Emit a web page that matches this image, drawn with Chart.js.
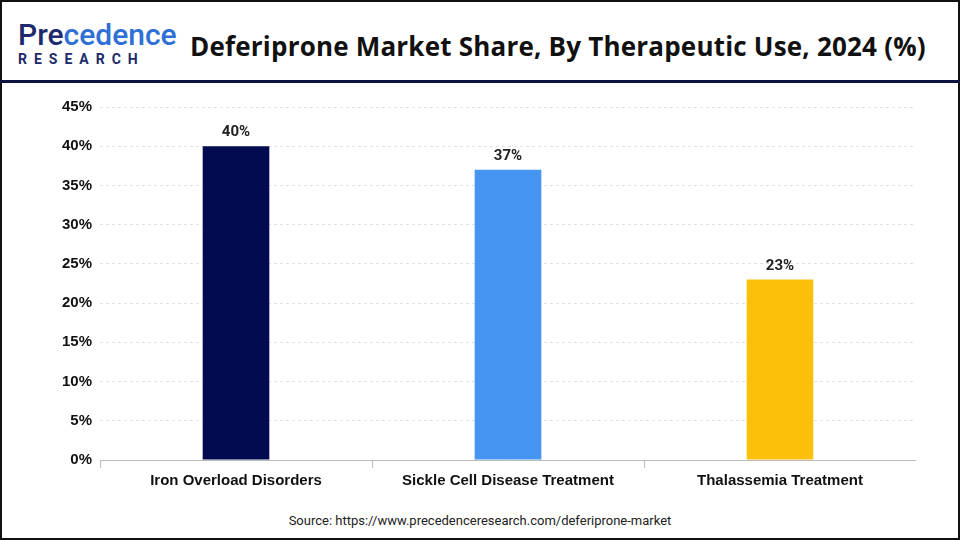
<!DOCTYPE html>
<html><head><meta charset="utf-8">
<script src="https://cdn.jsdelivr.net/npm/chart.js@4/dist/chart.umd.min.js"></script>
<style>
body{margin:0;width:960px;height:540px;overflow:hidden;background:#fff;font-family:Roboto,Arial,sans-serif}
#frame{position:absolute;left:0;top:0;width:956px;height:536px;border:2px solid #111;}
#logo{position:absolute;left:18px;top:20px;line-height:1}
#logo .p{font-size:30px;color:#1d2a6b;font-weight:500}
#logo .p span{color:#2f6fd6}
#logo .r{font-size:14px;color:#1d2a6b;font-weight:700;letter-spacing:7px;margin-top:2px}
#title{position:absolute;left:190px;top:28px;font-size:26px;font-weight:700;color:#111;font-family:"Open Sans",Roboto,sans-serif;letter-spacing:0.2px}
#rule{position:absolute;left:0;top:80px;width:960px;height:3px;background:#0d1440}
#wrap{position:absolute;left:28px;top:90px;width:888px;height:404px}
#src{position:absolute;top:513px;width:960px;text-align:center;font-size:13px;color:#222}
</style></head><body>
<div id="frame"></div>
<div id="logo"><div class="p">Pre<span>cedence</span></div><div class="r">RESEARCH</div></div>
<div id="title">Deferiprone Market Share, By Therapeutic Use, 2024 (%)</div>
<div id="rule"></div>
<div id="wrap"><canvas id="c"></canvas></div>
<div id="src">Source: https://www.precedenceresearch.com/deferiprone-market</div>
<script>
const categories = ['Iron Overload Disorders', 'Sickle Cell Disease Treatment', 'Thalassemia Treatment'];
const shares = [40, 37, 23];
const barColors = ['#020b4f', '#4795f2', '#fcc00a'];

const valueLabels = {
    id: 'valueLabels',
    afterDatasetsDraw(chart) {
        const ctx = chart.ctx;
        ctx.save();
        ctx.font = 'bold 15px Roboto, Arial, sans-serif';
        ctx.fillStyle = '#222';
        ctx.textAlign = 'center';
        ctx.textBaseline = 'bottom';
        chart.getDatasetMeta(0).data.forEach((bar, i) => {
            ctx.fillText(shares[i] + '%', bar.x, bar.y - 6);
        });
        ctx.restore();
    }
};

new Chart(document.getElementById('c'), {
    type: 'bar',
    data: {
        labels: categories,
        datasets: [{
            data: shares,
            backgroundColor: barColors,
            barPercentage: 0.245,
            categoryPercentage: 1,
        }],
    },
    options: {
        responsive: true,
        maintainAspectRatio: false,
        animation: false,
        layout: { padding: { top: 6, right: 0 } },
        plugins: { legend: { display: false }, tooltip: { enabled: false } },
        scales: {
            y: {
                min: 0, max: 45,
                afterFit(s) { s.width = 72; },
                ticks: { stepSize: 5, callback: v => v + '%', color: '#111', font: { size: 15, weight: 'bold' }, padding: 8 },
                grid: { color: '#e2e2e2', tickLength: 0 },
                border: { display: false, dash: [3, 3] },
            },
            x: {
                ticks: { color: '#111', font: { size: 15, weight: 'bold' }, padding: 4 },
                grid: { display: true, drawOnChartArea: false, tickLength: 8, color: '#bbb' },
                border: { color: '#bbb' },
            },
        },
    },
    plugins: [valueLabels],
});
</script>
</body></html>
